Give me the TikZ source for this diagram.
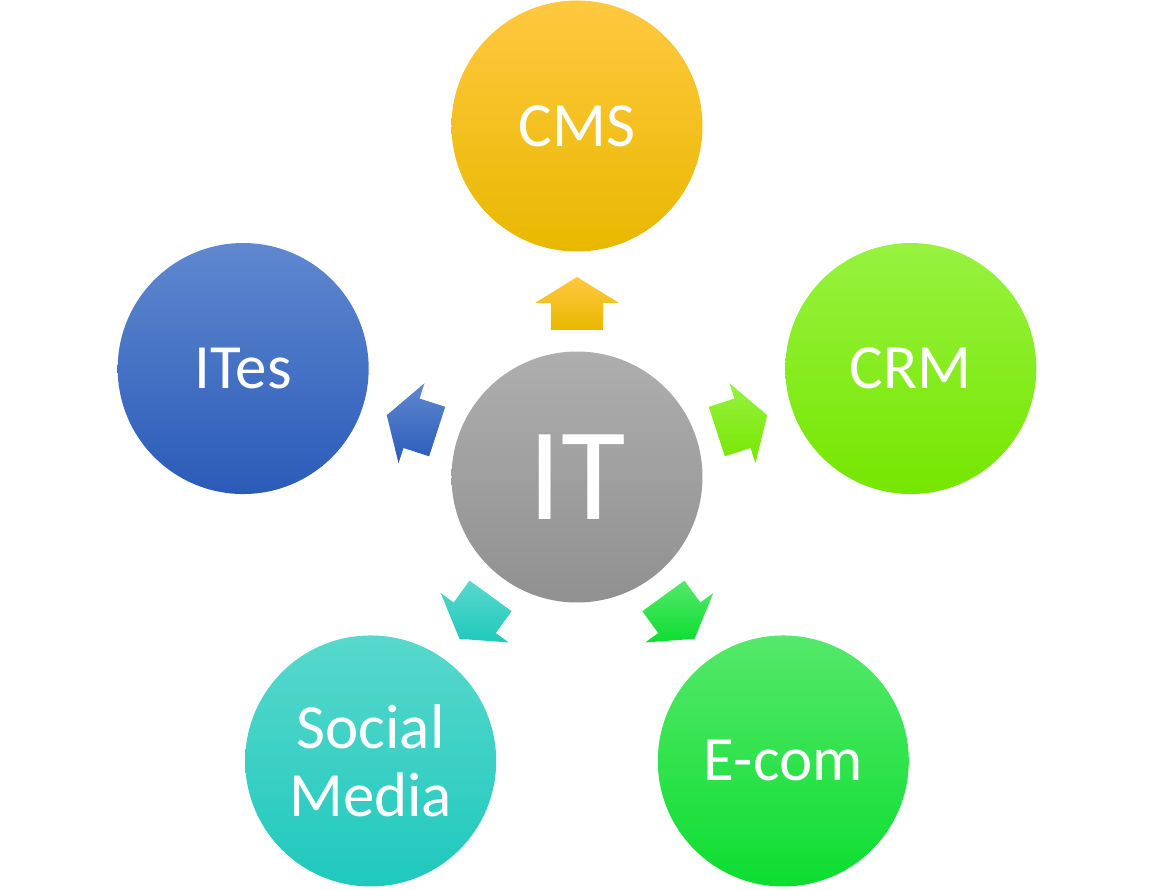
\documentclass[tikz,border=0pt]{standalone}
\usepackage{fontspec}
\setmainfont{Carlito}
\usetikzlibrary{calc}
\definecolor{cmsT}{HTML}{FFC840}\definecolor{cmsM}{HTML}{FFC800}\definecolor{cmsB}{HTML}{E8B800}
\definecolor{itT}{HTML}{AEAEAE}\definecolor{itM}{HTML}{A3A3A3}\definecolor{itB}{HTML}{909090}
\definecolor{crmT}{HTML}{96F23F}\definecolor{crmM}{HTML}{85F00A}\definecolor{crmB}{HTML}{76E600}
\definecolor{ecT}{HTML}{55E86A}\definecolor{ecM}{HTML}{22E046}\definecolor{ecB}{HTML}{0CDD30}
\definecolor{smT}{HTML}{58D8CC}\definecolor{smM}{HTML}{30D8CA}\definecolor{smB}{HTML}{1FC8BD}
\definecolor{itsT}{HTML}{5F88D0}\definecolor{itsM}{HTML}{3F6ECC}\definecolor{itsB}{HTML}{2B5BB8}
\tikzset{
  ball/.style={circle, minimum size=250pt, inner sep=0pt, text=white, align=center,
    font=\fontsize{63}{68}\selectfont},
}
\begin{document}
\begin{tikzpicture}[x=1pt,y=1pt]
\useasboundingbox (-577,-412) rectangle (577,477);
% node positions
\coordinate (it) at (0,0);
\coordinate (cms) at (90:351);
\coordinate (crm) at (18:351);
\coordinate (ecom) at (-54:351);
\coordinate (soc) at (-126:351);
\coordinate (ites) at (162:351);
% circles
\shade[top color=itT, middle color=itM, bottom color=itB] (it) circle (125.5);
\shade[top color=cmsT, middle color=cmsM, bottom color=cmsB] (cms) circle (125.5);
\shade[top color=crmT, middle color=crmM, bottom color=crmB] (crm) circle (125.5);
\shade[top color=ecT, middle color=ecM, bottom color=ecB] (ecom) circle (125.5);
\shade[top color=smT, middle color=smM, bottom color=smB] (soc) circle (125.5);
\shade[top color=itsT, middle color=itsM, bottom color=itsB] (ites) circle (125.5);
% labels
\node[ball, font=\fontsize{132}{132}\selectfont] (itn) at (it) {IT};
\node[ball] (cmsn) at (cms) {CMS};
\node[ball] (crmn) at (crm) {CRM};
\node[ball] (ecomn) at (ecom) {E-com};
\node[ball] (socn) at (soc) {Social\\Media};
\node[ball] (itesn) at (ites) {ITes};
% block arrows
\foreach \t/\ct/\cb in {cms/cmsT/cmsB, crm/crmT/crmB, ecom/ecT/ecB, soc/smT/smB, ites/itsT/itsB}{
  \coordinate (a) at ($(it)!147pt!(\t)$);
  \coordinate (b) at ($(it)!174pt!(\t)$);
  \coordinate (tip) at ($(it)!200pt!(\t)$);
  \shade[top color=\ct, bottom color=\cb]
    ($(a)!26pt!90:(\t)$) -- ($(b)!26pt!90:(\t)$) -- ($(b)!42pt!90:(\t)$) -- (tip)
    -- ($(b)!42pt!-90:(\t)$) -- ($(b)!26pt!-90:(\t)$) -- ($(a)!26pt!-90:(\t)$) -- cycle;
}
\end{tikzpicture}
\end{document}
